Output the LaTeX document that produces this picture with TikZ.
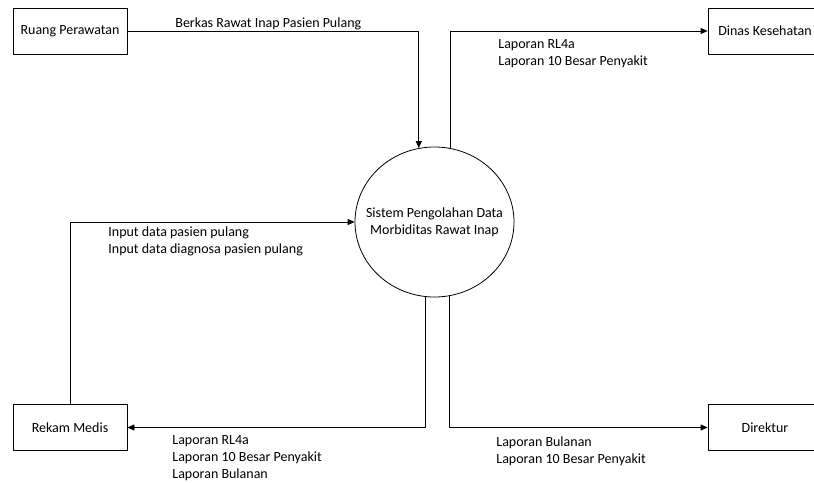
\documentclass[tikz,border=0pt]{standalone}
\usepackage{fontspec}
\setmainfont{Carlito}
\usetikzlibrary{arrows.meta,shapes.geometric}
\tikzset{
	entitas/.style={draw, minimum width=114pt, minimum height=46pt, inner sep=0pt},
	proses/.style={draw, ellipse, minimum width=159pt, minimum height=150pt, inner sep=0pt},
	ket/.style={anchor=west, inner sep=0pt, align=left}
}
\begin{document}
\begin{tikzpicture}[x=1pt, y=-1pt, font=\fontsize{14}{16.8}\selectfont, line width=.8pt, line join=round, >={Triangle[length=7pt,width=6pt]}]
			\useasboundingbox(0,0)rectangle(814,482);
			\clip(0,0)rectangle(814,482);
			\node[entitas](ruang)at(70,31){Ruang Perawatan};
			\node[entitas](rekam)at(70,427.5){Rekam Medis};
			\node[entitas](dinas)at(765,31){Dinas Kesehatan};
			\node[entitas](direktur)at(765,427.5){Direktur};
			\node[proses](sistem)at(434.5,222){};
			\node[inner sep=0pt, align=center](kSistem)at(sistem.center){Sistem Pengolahan Data\\Morbiditas Rawat Inap};
			
			\draw[->](ruang.east)-|(sistem.102.7);
			\draw[->](sistem.78.1)|-(dinas.west);
			\draw[->](rekam.north)|-(sistem.west);
			\draw[->](sistem.263.5)|-(rekam.east);
			\draw[->](sistem.281.9)|-(direktur.west);
			
			\node[ket](kBerkas)at(175,24){Berkas Rawat Inap Pasien Pulang};
			\node[ket](kDinas)at(498,53.5){Laporan RL4a\\Laporan 10 Besar Penyakit};
			\node[ket](kInput)at(108,241.5){Input data pasien pulang\\Input data diagnosa pasien pulang};
			\node[ket](kRekam)at(172,458){Laporan RL4a\\Laporan 10 Besar Penyakit\\Laporan Bulanan};
			\node[ket](kDirektur)at(496,451.5){Laporan Bulanan\\Laporan 10 Besar Penyakit};
			
	\end{tikzpicture}
\end{document}
